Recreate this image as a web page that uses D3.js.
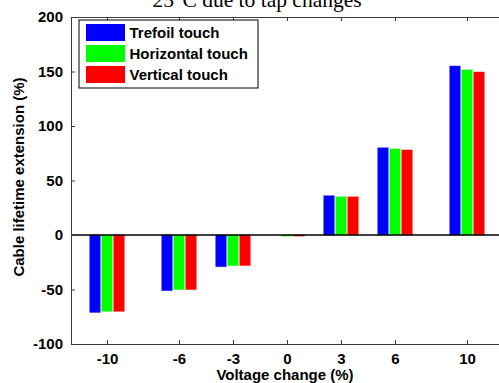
<!DOCTYPE html>
<html>
<head>
<meta charset="utf-8">
<script src="https://cdn.jsdelivr.net/npm/d3@7"></script>
<style>
  body { margin: 0; background: #fff; }
  svg { display: block; }
  text { font-family: "Liberation Sans", Arial, sans-serif; font-weight: bold; }
</style>
</head>
<body>
<svg width="499" height="383"></svg>
<script>
const voltageChanges = [-10, -6, -3, 0, 3, 6, 10];
const seriesNames = ["Trefoil touch", "Horizontal touch", "Vertical touch"];
const seriesColors = ["#0000ff", "#00ff00", "#ff0000"];
const trefoil = [-71, -51, -29, 0, 36, 80, 155];
const horizontal = [-70, -50, -28, -1, 35, 79, 151.5];
const vertical = [-70, -50, -28, -1, 35, 78, 149.5];
const yTicks = [-100, -50, 0, 50, 100, 150, 200];

const svg = d3.select("svg");

const plotLeft = 71, plotRight = 503, plotTop = 17, plotBottom = 344;
const x = d3.scaleLinear().domain([-12, 12]).range([plotLeft, plotRight]);
const y = d3.scaleLinear().domain([-100, 200]).range([plotBottom, plotTop]);

// title (second line, mostly cut off at the top)
svg.append("text")
  .attr("x", 257)
  .attr("y", 7)
  .attr("text-anchor", "middle")
  .style("font-family", "'Liberation Serif', 'Times New Roman', serif")
  .style("font-weight", "normal")
  .style("font-size", "21.5px")
  .text("25°C due to tap changes");

// bars
const series = [trefoil, horizontal, vertical];
const offset = 0.667, barW = 0.583;
series.forEach((vals, s) => {
  svg.append("g")
    .selectAll("rect")
    .data(vals.map((v, i) => ({ x: voltageChanges[i], v: v })))
    .join("rect")
    .attr("x", (d) => x(d.x + (s - 1) * offset - barW / 2))
    .attr("width", x(barW) - x(0))
    .attr("y", (d) => y(Math.max(0, d.v)))
    .attr("height", (d) => Math.abs(y(d.v) - y(0)))
    .attr("fill", seriesColors[s])
    .attr("stroke", seriesColors[s])
    .attr("stroke-opacity", 0.45)
    .attr("stroke-width", 1);
});

// zero line
svg.append("line")
  .attr("x1", plotLeft).attr("x2", plotRight)
  .attr("y1", y(0)).attr("y2", y(0))
  .attr("stroke", "#000")
  .attr("stroke-width", 1.5);

// axes box with inward ticks
const axisColor = "#3a3a3a";
const plain = (d) => String(d); // hyphen minus, not U+2212
const yAxisL = d3.axisLeft(y).tickValues(yTicks).tickFormat(plain).tickSizeInner(-4).tickSizeOuter(0).tickPadding(8);
const yAxisR = d3.axisRight(y).tickValues(yTicks).tickSizeInner(-4).tickSizeOuter(0).tickFormat("");
const xAxisB = d3.axisBottom(x).tickValues(voltageChanges).tickFormat(plain).tickSizeInner(-4).tickSizeOuter(0).tickPadding(9);
const xAxisT = d3.axisTop(x).tickValues(voltageChanges).tickSizeInner(-4).tickSizeOuter(0).tickFormat("");

function style(g) {
  g.select(".domain").attr("stroke", axisColor);
  g.selectAll(".tick line").attr("stroke", axisColor);
  g.selectAll(".tick text")
    .attr("fill", "#000")
    .style("font-family", "'Liberation Sans', Arial, sans-serif")
    .style("font-weight", "bold")
    .style("font-size", "15px");
}

svg.append("g").attr("transform", `translate(${plotLeft},0)`).call(yAxisL).call(style);
svg.append("g").attr("transform", `translate(${plotRight},0)`).call(yAxisR).call(style);
svg.append("g").attr("transform", `translate(0,${plotBottom})`).call(xAxisB).call(style);
svg.append("g").attr("transform", `translate(0,${plotTop})`).call(xAxisT).call(style);

// axis labels
svg.append("text")
  .attr("x", 285)
  .attr("y", 380)
  .attr("text-anchor", "middle")
  .style("font-size", "15px")
  .text("Voltage change (%)");

svg.append("text")
  .attr("transform", "translate(24,177) rotate(-90)")
  .attr("text-anchor", "middle")
  .style("font-size", "15px")
  .text("Cable lifetime extension (%)");

// legend
const legend = svg.append("g");
legend.append("rect")
  .attr("x", 79).attr("y", 20)
  .attr("width", 179).attr("height", 68)
  .attr("fill", "#fff")
  .attr("stroke", "#000")
  .attr("stroke-width", 1);

const items = legend.selectAll("g.item")
  .data(seriesNames)
  .join("g")
  .attr("class", "item")
  .attr("transform", (d, i) => `translate(0,${24 + i * 21})`);

items.append("rect")
  .attr("x", 86).attr("y", 0)
  .attr("width", 39).attr("height", 17)
  .attr("fill", (d, i) => seriesColors[i]);

items.append("text")
  .attr("x", 129.5)
  .attr("y", 14)
  .style("font-size", "15px")
  .text((d) => d);
</script>
</body>
</html>
